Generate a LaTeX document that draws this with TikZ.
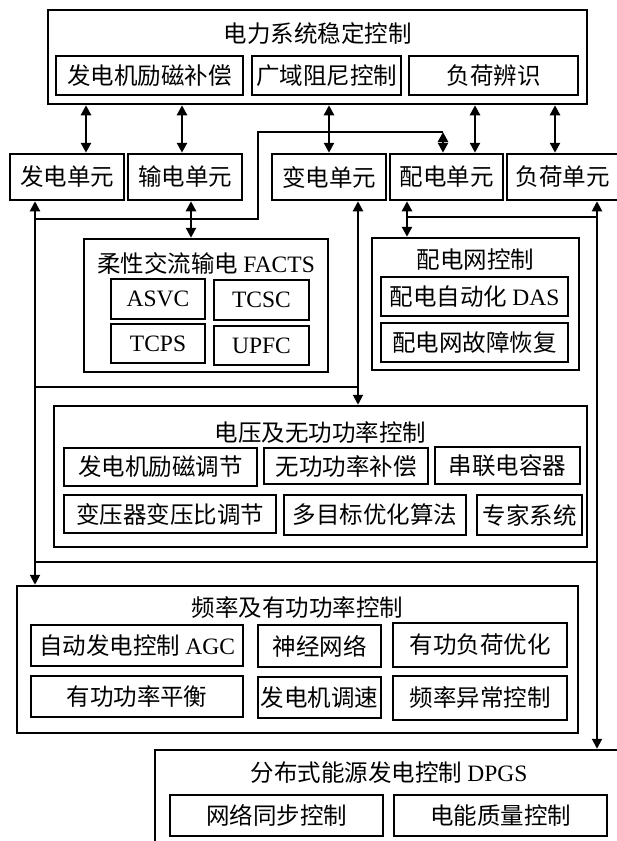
\documentclass[tikz,border=0pt]{standalone}
\usepackage{fontspec}
\setmainfont{Liberation Serif}
\newfontfamily\cjk{Noto Sans CJK SC}
\usetikzlibrary{arrows.meta,calc}
\newcommand\mybox[6]{\node[box,minimum width={#4-#2},minimum height={#5-#3}] (#1) at ({(#2+#4)/2},{(#3+#5)/2}) {#6};}
\begin{document}
\begin{tikzpicture}[x=1pt,y=-1pt,
 box/.style={draw,line width=2.5pt,inner sep=0pt,font=\cjk\fontsize{23.5}{26}\selectfont},
 ttl/.style={inner sep=0pt,font=\cjk\fontsize{23.5}{26}\selectfont},
 link/.style={line width=2pt},
 arr/.style={line width=2.8pt},
 both/.style={{Triangle[width=10pt,length=10pt]}-{Triangle[width=10pt,length=10pt]}},
]
\useasboundingbox (0,0) rectangle (617,841);
\fill[white] (0,0) rectangle (617,841);
% top box
\mybox{top}{48}{10}{587}{104}{}
\node[ttl] (ttop) at (317.5,34) {电力系统稳定控制};
\mybox{gcomp}{56}{56}{243}{95}{发电机励磁补偿}
\mybox{wadc}{252}{56}{401}{95}{广域阻尼控制}
\mybox{lid}{409}{56}{578}{95}{负荷辨识}
% units
\mybox{u1}{10}{154}{124}{200}{发电单元}
\mybox{u2}{128}{154}{242}{200}{输电单元}
\mybox{u3}{272}{154}{386}{200}{变电单元}
\mybox{u4}{390}{154}{503}{200}{配电单元}
\mybox{u5}{507}{154}{618}{200}{负荷单元}
% FACTS
\mybox{facts}{84}{239}{328}{372}{}
\node[ttl] (tfacts) at (206,263) {柔性交流输电 {\rmfamily FACTS}};
\mybox{asvc}{111}{279}{205}{319}{\rmfamily ASVC}
\mybox{tcsc}{214}{280}{309}{320}{\rmfamily TCSC}
\mybox{tcps}{111}{324}{205}{363}{\rmfamily TCPS}
\mybox{upfc}{214}{326}{309}{365}{\rmfamily UPFC}
% distribution network
\mybox{dn}{372}{238}{579}{370}{}
\node[ttl] (tdn) at (475.5,260) {配电网控制};
\mybox{das}{381}{277}{568}{316}{配电自动化 {\rmfamily DAS}}
\mybox{rec}{381}{323}{568}{362}{配电网故障恢复}
% voltage
\mybox{volt}{54}{406}{587}{547}{}
\node[ttl] (tvolt) at (320.5,432) {电压及无功功率控制};
\mybox{v1}{64}{448}{257}{486}{发电机励磁调节}
\mybox{v2}{264}{448}{428}{484}{无功功率补偿}
\mybox{v3}{435}{447}{580}{484}{串联电容器}
\mybox{v4}{64}{495}{276}{533}{变压器变压比调节}
\mybox{v5}{284}{495}{466}{535}{多目标优化算法}
\mybox{v6}{477}{495}{582}{535}{专家系统}
% frequency
\mybox{freq}{17}{586}{578}{733}{}
\node[ttl] (tfreq) at (297.5,608) {频率及有功功率控制};
\mybox{f1}{31}{625}{243}{666}{自动发电控制 {\rmfamily AGC}}
\mybox{f2}{258}{625}{381}{667}{神经网络}
\mybox{f3}{393}{623}{567}{667}{有功负荷优化}
\mybox{f4}{31}{676}{243}{717}{有功功率平衡}
\mybox{f5}{258}{677}{381}{718}{发电机调速}
\mybox{f6}{393}{676}{567}{720}{频率异常控制}
% DPGS
\mybox{dpgs}{155}{750}{625}{860}{}
\node[ttl] (tdpgs) at (389,773) {分布式能源发电控制 {\rmfamily DPGS}};
\mybox{d1}{170}{795}{383}{836}{网络同步控制}
\mybox{d2}{394}{795}{607}{836}{电能质量控制}
% marker coordinates
\coordinate (t1) at (86,0);
\coordinate (t2) at (182,0);
\coordinate (t3) at (329,0);
\coordinate (t4) at (475,0);
\coordinate (t5) at (555,0);
\coordinate (xL) at (35,0);
\coordinate (xR) at (597,0);
\coordinate (xV) at (358,0);
\coordinate (xD) at (407,0);
\coordinate (xT) at (191,0);
\coordinate (xF) at (258,0);
\coordinate (xP) at (443,0);
\coordinate (yA) at (0,219);
\coordinate (yB) at (0,387);
\coordinate (yC) at (0,562);
\coordinate (yD) at (0,217);
\coordinate (yE) at (0,132);
% top arrows
\draw[arr,both] (top.south -| t1) -- (u1.north -| t1);
\draw[arr,both] (top.south -| t2) -- (u2.north -| t2);
\draw[arr,both] (top.south -| t3) -- (u3.north -| t3);
\draw[arr,both] (top.south -| t4) -- (u4.north -| t4);
\draw[arr,both] (top.south -| t5) -- (u5.north -| t5);
% long connectors
\draw[link,both] (u1.south -| xL) -- (freq.north -| xL);
\draw[link,both] (u5.south -| xR) -- (dpgs.north -| xR);
\draw[link,both] (u3.south -| xV) -- (volt.north -| xV);
\draw[arr,both] (u4.south -| xD) -- (dn.north -| xD);
\draw[arr,both] (u2.south -| xT) -- (facts.north -| xT);
\draw[link] (xL |- yA) -| (xF |- yE) -- (xP |- yE);
\draw[arr,both] (xP |- yE) -- (u4.north -| xP);
\draw[link] (xL |- yB) -- (xV |- yB);
\draw[link] (xL |- yC) -- (xR |- yC);
\draw[link] (xD |- yD) -- (xR |- yD);
\end{tikzpicture}
\end{document}
